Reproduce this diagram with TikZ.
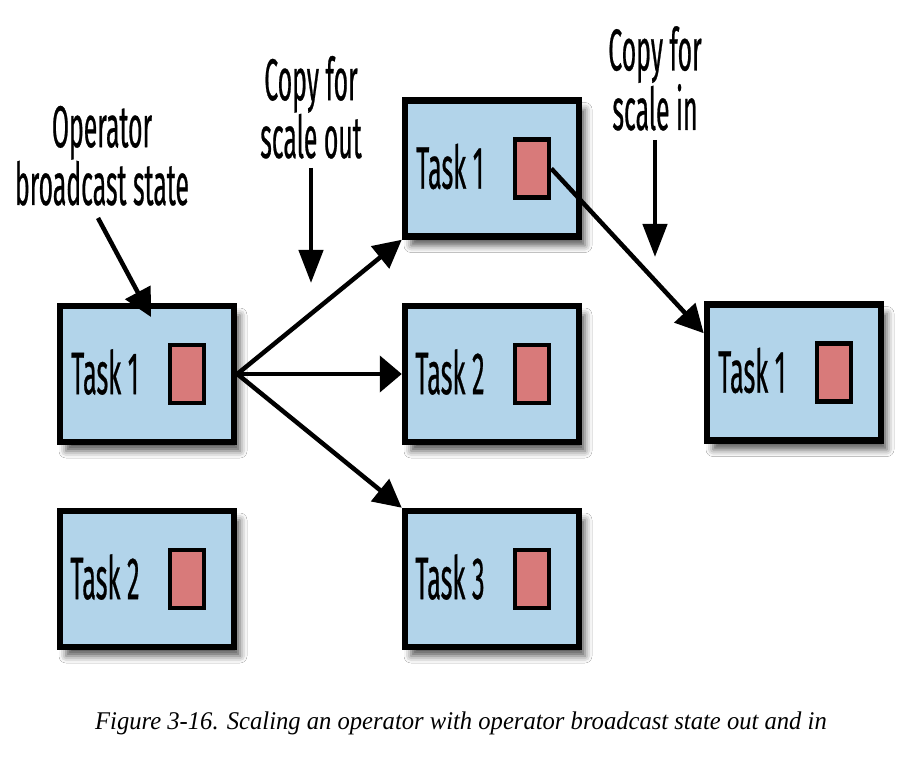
\documentclass[tikz,border=0pt]{standalone}
\usepackage{fontspec}
\setmainfont{Liberation Serif}
\newfontfamily\labelfont[FakeStretch=0.42,FakeBold=0.4]{Fira Sans}
\newfontfamily\capfont[FakeStretch=0.965]{Liberation Serif}
\usetikzlibrary{arrows.meta,shadows.blur,calc}
\definecolor{taskblue}{RGB}{178,212,234}
\definecolor{statered}{RGB}{216,122,122}
\tikzset{
  taskbox/.style={draw=black, line width=6.5pt, fill=taskblue,
    minimum width=174pt, minimum height=136pt, inner sep=0pt,
    blur shadow={shadow xshift=6pt, shadow yshift=-9pt, shadow blur radius=7pt, shadow opacity=65}},
  statebox/.style={draw=black, line width=4.5pt, fill=statered,
    minimum width=34pt, minimum height=58pt, inner sep=0pt},
  tasklabel/.style={font=\labelfont\fontsize{60}{56}\selectfont, inner sep=0pt},
  note/.style={font=\labelfont\fontsize{59}{56}\selectfont, align=center, inner sep=0pt},
  arrh/.style={line width=4.5pt, -{Triangle[length=22pt,width=36pt]}},
  arrv/.style={line width=4.5pt, -{Triangle[length=33pt,width=24pt]}},
  arrd/.style={line width=4.5pt, -{Triangle[length=28pt,width=28pt]}},
}
\begin{document}
\begin{tikzpicture}[x=1pt,y=-1pt]
\useasboundingbox[fill=white] (0,0) rectangle (914,762);

% boxes
\node[taskbox] (L1) at (147,374) {};
\node[taskbox] (L2) at (147,579) {};
\node[taskbox] (M1) at (492,168.5) {};
\node[taskbox] (M2) at (492,374) {};
\node[taskbox] (M3) at (492,579) {};
\node[taskbox] (R1) at (794,372.5) {};

% state squares
\node[statebox] (sL1) at ($(L1.center)+(40,0)$) {};
\node[statebox] (sL2) at ($(L2.center)+(40,0)$) {};
\node[statebox] (sM1) at ($(M1.center)+(40,0)$) {};
\node[statebox] (sM2) at ($(M2.center)+(40,0)$) {};
\node[statebox] (sM3) at ($(M3.center)+(40,0)$) {};
\node[statebox] (sR1) at ($(R1.center)+(40,0)$) {};

% labels
\node[tasklabel] (tL1) at ($(L1.center)+(-42,-2)$) {Task 1};
\node[tasklabel] (tL2) at ($(L2.center)+(-42,-2)$) {Task 2};
\node[tasklabel] (tM1) at ($(M1.center)+(-42,-2)$) {Task 1};
\node[tasklabel] (tM2) at ($(M2.center)+(-42,-2)$) {Task 2};
\node[tasklabel] (tM3) at ($(M3.center)+(-42,-2)$) {Task 3};
\node[tasklabel] (tR1) at ($(R1.center)+(-42,-2)$) {Task 1};

% notes (anchor=base is the baseline of the last line)
\node[note, anchor=base] (n1) at (102,205) {Operator\\broadcast state};
\node[note, anchor=base] (n2) at (311,158) {Copy for\\scale out};
\node[note, anchor=base] (n3) at (655,130) {Copy for\\scale in};

% note arrows
\coordinate (a1s) at (98,218);
\coordinate (a1e) at (151,317);
\draw[arrd] (a1s) -- (a1e);
\coordinate (a2s) at (311,168);
\coordinate (a2e) at (311,283);
\draw[arrv] (a2s) -- (a2e);
\coordinate (a3s) at (655,140);
\coordinate (a3e) at (655,257);
\draw[arrv] (a3s) -- (a3e);

% copy arrows
\coordinate (o) at (L1.east);
\draw[arrd] (o) -- (M1.south west);
\draw[arrh] (o) -- (M2.west);
\draw[arrd] (o) -- (M3.north west);
\coordinate (r1in) at ($(R1.north west)+(0,32)$);
\draw[arrd] (sM1.east) -- (r1in);

% caption
\node[font=\capfont\itshape\fontsize{25.5}{30}\selectfont, anchor=base, inner sep=0pt] (cap) at (461,729)
  {Figure 3-16. Scaling an operator with operator broadcast state out and in};
\end{tikzpicture}
\end{document}
